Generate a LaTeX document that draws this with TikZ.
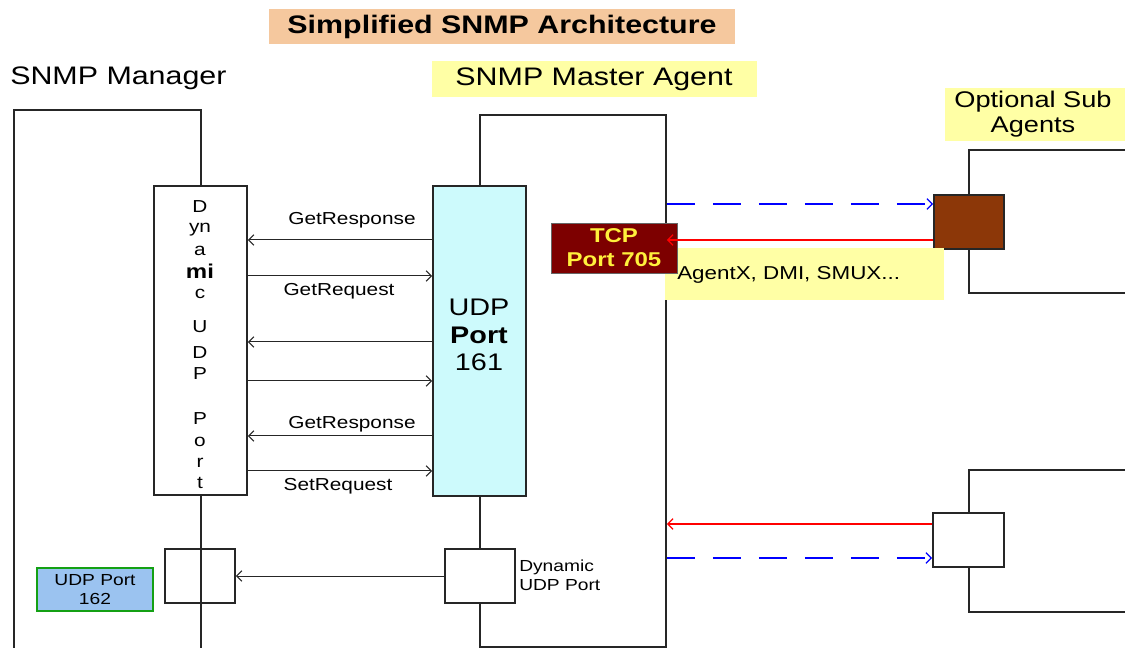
\documentclass[tikz,border=0pt]{standalone}
\usepackage{fontspec}
\setmainfont{Liberation Sans}[FakeStretch=1.2]
\usetikzlibrary{arrows.meta,fit}
\definecolor{titlebg}{RGB}{245,200,158}
\definecolor{lyellow}{RGB}{255,255,165}
\definecolor{lcyan}{RGB}{205,250,252}
\definecolor{brownbox}{RGB}{140,55,8}
\definecolor{maroonbox}{RGB}{125,0,0}
\definecolor{tcptext}{RGB}{255,240,60}
\definecolor{lblue}{RGB}{155,195,240}
\definecolor{gborder}{RGB}{20,160,20}
\begin{document}
\begin{tikzpicture}[x=0.75pt,y=-0.75pt,
  line/.style={draw=black!85, line width=1.3pt},
  box/.style={draw=black!85, line width=1.3pt, inner sep=0pt, fill=white},
  hollow/.style={draw=black!85, line width=1.3pt, inner sep=0pt},
  band/.style={inner sep=0pt, draw=none},
  arr/.style={line width=0.75pt, draw=black!85, -{Straight Barb[length=4pt,width=8pt]}},
  rarr/.style={line width=0.9pt, draw=red, -{Straight Barb[length=4pt,width=8pt]}},
  barr/.style={line width=1.1pt, draw=blue, dash pattern=on 21pt off 13.5pt, -{Straight Barb[length=4pt,width=8pt,line width=0.9pt]}},
  txt/.style={inner sep=0pt},
  lbl/.style={txt, font=\fontsize{13}{15}\selectfont},
  vl/.style={txt, font=\fontsize{12}{14}\selectfont},
  vlet/.style={txt, font=\fontsize{13}{15}\selectfont},
  head/.style={txt, font=\fontsize{19}{22}\selectfont},
]
\useasboundingbox[fill=white] (0,0) rectangle (1125,648);

% Title
\node[band, fill=titlebg, fit={(269,9)(735,44)}] (titlebg) {};
\node[txt, font=\fontsize{19}{22}\selectfont\bfseries] (title) at (titlebg.center) {Simplified SNMP Architecture};

% Headings
\node[head, anchor=west] (mgr) at (10,78) {SNMP Manager};
\node[band, fill=lyellow, fit={(432,61)(757,97)}] (mabg) {};
\node[head] (ma) at (594,79) {SNMP Master Agent};
\node[band, fill=lyellow, fit={(945,88)(1125,141)}] (osbg) {};
\node[txt, font=\fontsize{17}{19}\selectfont, align=center] (os) at (1033,114) {Optional Sub\\Agents};

% Manager frame
\coordinate (mgrBL) at (14,648);
\coordinate (mgrTR) at (201,110);
\coordinate (mgrBR) at (201,648);
\draw[line] (mgrBL) |- (mgrTR) -- (mgrBR);

% Master frame
\node[hollow, fit={(480,115)(666,647)}] (master) {};

% Sub agent frames
\coordinate (s1TR) at (1126,150);
\coordinate (s1BL) at (969,293);
\coordinate (s1BR) at (1126,293);
\draw[line] (s1TR) -| (s1BL) -- (s1BR);
\coordinate (s2TR) at (1126,470);
\coordinate (s2BL) at (969,612);
\coordinate (s2BR) at (1126,612);
\draw[line] (s2TR) -| (s2BL) -- (s2BR);

% Dynamic UDP port (manager)
\node[box, fit={(154,186)(247,495)}] (dyn) {};
\foreach \t/\y [count=\i] in {D/207, yn/230, a/251, {\fontsize{15}{17}\selectfont\bfseries mi}/271, c/294, U/327, D/353, P/374, P/419, o/442, r/463, t/483}
  \node[vlet] (dl\i) at (200,\y) {\t};

% UDP port 161
\node[box, fill=lcyan, fit={(433,186)(526,496)}] (udp) {};
\node[txt, font=\fontsize{18}{20.5}\selectfont, align=center] (udpt) at (479,335) {UDP\\\textbf{Port}\\161};

% Request / response arrows
\coordinate (y1) at (0,240);
\coordinate (y2) at (0,276);
\coordinate (y3) at (0,342);
\coordinate (y4) at (0,381);
\coordinate (y5) at (0,436);
\coordinate (y6) at (0,471);
\draw[arr] (udp.west |- y1) -- (dyn.east |- y1);
\draw[arr] (dyn.east |- y2) -- (udp.west |- y2);
\draw[arr] (udp.west |- y3) -- (dyn.east |- y3);
\draw[arr] (dyn.east |- y4) -- (udp.west |- y4);
\draw[arr] (udp.west |- y5) -- (dyn.east |- y5);
\draw[arr] (dyn.east |- y6) -- (udp.west |- y6);
\node[lbl] (l1) at (352,220) {GetResponse};
\node[lbl] (l2) at (339,291) {GetRequest};
\node[lbl] (l3) at (352,424) {GetResponse};
\node[lbl] (l4) at (338,486) {SetRequest};

% Bottom ports
\node[hollow, fit={(165,549)(235,603)}] (mport) {};
\node[box, fit={(445,549)(515,603)}] (aport) {};
\node[vl, align=left, anchor=west] (aportt) at (519,575) {Dynamic\\UDP Port};
\node[draw=gborder, fill=lblue, line width=1pt, inner sep=0pt, fit={(37,568)(153,611)}] (p162) {};
\node[txt, font=\fontsize{12}{14.5}\selectfont, align=center] (p162t) at (p162.center) {UDP Port\\162};
\draw[arr] (aport.west) -- (mport.east);

% Sub agent ports
\node[box, fill=brownbox, fit={(934,195)(1004,249)}] (sa1) {};
\node[box, fit={(933,513)(1004,567)}] (sa2) {};

% AgentX label
\node[band, fill=lyellow, fit={(665,248)(944,300)}] (axbg) {};
\node[txt, font=\fontsize{14}{16}\selectfont, anchor=west] (axt) at (677,275) {AgentX, DMI, SMUX...};

% TCP port
\node[draw=black!60, line width=0.6pt, fill=maroonbox, inner sep=0pt, fit={(551,223)(677,273)}] (tcp) {};
\node[txt, font=\fontsize{15}{18}\selectfont\bfseries, text=tcptext, align=center] (tcpt) at (tcp.center) {TCP\\Port 705};

% Sub agent connections
\coordinate (b1) at (0,204);
\coordinate (r1) at (0,240);
\coordinate (r2) at (0,524);
\coordinate (b2) at (0,558);
\draw[barr] (master.east |- b1) -- (sa1.west |- b1);
\draw[rarr] (sa1.west |- r1) -- (master.east |- r1);
\draw[rarr] (sa2.west |- r2) -- (master.east |- r2);
\draw[barr] (master.east |- b2) -- (sa2.west |- b2);
\end{tikzpicture}
\end{document}
